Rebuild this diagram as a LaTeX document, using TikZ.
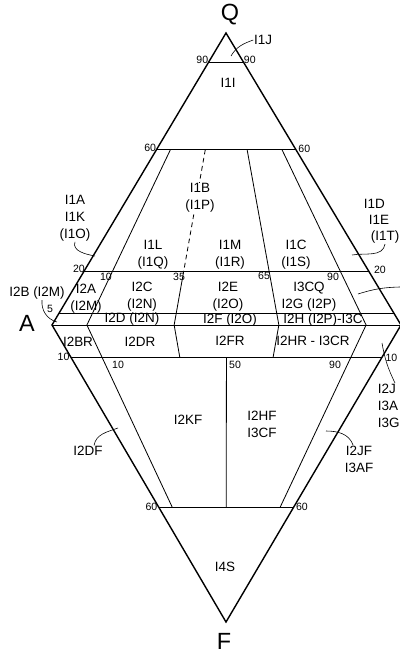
\documentclass[tikz,border=0pt]{standalone}
\usepackage{fontspec}
\setmainfont{Liberation Sans}
\usetikzlibrary{calc}
\tikzset{
    rim/.style={line width=1.2pt, line join=miter},
    div/.style={line width=0.7pt},
    lvl/.style={line width=0.6pt},
    lead/.style={line width=0.5pt},
    field/.style={font=\fontsize{11.5}{14.5}\selectfont, inner sep=0.5pt, align=center},
    tick/.style={font=\fontsize{9}{10}\selectfont, inner sep=1pt},
    corner/.style={font=\fontsize{20}{22}\selectfont, inner sep=0}
}

\begin{document}
\begin{tikzpicture}[x=0.03cm, y=-0.03cm]
    \clip (0,0) rectangle (400,653);
    % corners of the double triangle
    \coordinate (Q) at (226,33);
    \coordinate (A) at (52,325);
    \coordinate (P) at (401,325);
    \coordinate (F) at (226,622);

    % horizontal levels
    \coordinate (q90l) at ($(A)!0.9!(Q)$);   \coordinate (q90r) at ($(P)!0.9!(Q)$);
    \coordinate (q60l) at ($(A)!0.6!(Q)$);   \coordinate (q60r) at ($(P)!0.6!(Q)$);
    \coordinate (q20l) at ($(A)!0.185!(Q)$); \coordinate (q20r) at ($(P)!0.185!(Q)$);
    \coordinate (q5l) at ($(A)!0.04!(Q)$);   \coordinate (q5r) at ($(P)!0.04!(Q)$);
    \coordinate (f10l) at ($(A)!0.108!(F)$); \coordinate (f10r) at ($(P)!0.108!(F)$);
    \coordinate (f60l) at ($(A)!0.613!(F)$); \coordinate (f60r) at ($(P)!0.613!(F)$);

    % ratio lines, upper part
    \coordinate (u10a) at ($(q60l)!0.10!(q60r)$); \coordinate (u10b) at ($(A)!0.10!(P)$);
    \coordinate (u35a) at ($(q60l)!0.35!(q60r)$); \coordinate (u35m) at ($(q20l)!0.35!(q20r)$);
    \coordinate (u35b) at ($(A)!0.35!(P)$);
    \coordinate (u65a) at ($(q60l)!0.65!(q60r)$); \coordinate (u65b) at ($(A)!0.65!(P)$);
    \coordinate (u90a) at ($(q60l)!0.90!(q60r)$); \coordinate (u90b) at ($(A)!0.90!(P)$);
    % ratio lines, lower part
    \coordinate (d10b) at ($(f60l)!0.10!(f60r)$);
    \coordinate (d35b) at ($(f10l)!0.35!(f10r)$);
    \coordinate (d50a) at ($(f10l)!0.50!(f10r)$); \coordinate (d50b) at ($(f60l)!0.50!(f60r)$);
    \coordinate (d65b) at ($(f10l)!0.65!(f10r)$);
    \coordinate (d90b) at ($(f60l)!0.90!(f60r)$);

    \draw[lvl] (q90l) -- (q90r);
    \draw[lvl] (q60l) -- (q60r);
    \draw[lvl] (q20l) -- (q20r);
    \draw[lvl] (q5l) -- (q5r);
    \draw[lvl] (A) -- (P);
    \draw[lvl] (f10l) -- (f10r);
    \draw[lvl] (f60l) -- (f60r);

    \draw[div] (u10a) -- (u10b) -- (d10b);
    \draw[div, dash pattern=on 4pt off 3pt] (u35a) -- (u35m);
    \draw[div] (u35m) -- (u35b) -- (d35b);
    \draw[div] (u65a) -- (u65b) -- (d65b);
    \draw[div] (u90a) -- (u90b) -- (d90b);
    \draw[div] (d50a) -- (d50b);

    \draw[rim] (Q) -- (A) -- (F) -- (P) -- cycle;

    % corner letters
    \node[corner] (lq) at (230,15) {Q};
    \node[corner] (la) at (27,323) {A};
    \node[corner] (lf) at (224,641) {F};

    % level numbers
    \node[tick, anchor=east] (t90l) at ($(q90l)+(1,-2)$) {90};
    \node[tick, anchor=west] (t90r) at ($(q90r)+(-1,-2)$) {90};
    \node[tick, anchor=east] (t60l) at ($(q60l)+(1,-2)$) {60};
    \node[tick, anchor=west] (t60r) at ($(q60r)+(1,-1)$) {60};
    \node[tick, anchor=south east] (t20l) at ($(q20l)+(2,3)$) {20};
    \node[tick, anchor=south west] (t20r) at ($(q20r)+(4,4)$) {20};
    \node[tick] (t5) at (50,309) {5};
    \node[tick] (t10u) at (106,277) {10};
    \node[tick] (t35) at (179,277) {35};
    \node[tick] (t65) at (264,276) {65};
    \node[tick] (t90u) at (333,277) {90};
    \node[tick, anchor=east] (t10l) at ($(f10l)+(0,0)$) {10};
    \node[tick] (t10d) at (118,365) {10};
    \node[tick] (t50) at (235,365) {50};
    \node[tick] (t90d) at (335,365) {90};
    \node[tick, anchor=west] (t10r) at ($(f10r)+(2,1)$) {10};
    \node[tick, anchor=east] (t60dl) at ($(f60l)+(0,0)$) {60};
    \node[tick, anchor=west] (t60dr) at ($(f60r)+(1,0)$) {60};

    % field names
    \node[field] (i1i) at (228,83) {I1I};
    \node[field] (i1j) at (263,40) {I1J};
    \node[field, fill=white] (i1b) at (200,198) {I1B\\(I1P)};
    \node[field] (i1a) at (75,218) {I1A\\I1K\\(I1O)};
    \node[field, anchor=west] (i1d) at (363,204) {I1D};
    \node[field, anchor=west] (i1e) at (368,220) {I1E};
    \node[field, anchor=west] (i1t) at (370,237) {(I1T)};
    \node[field] (i1l) at (153,255) {I1L\\(I1Q)};
    \node[field] (i1m) at (230,255) {I1M\\(I1R)};
    \node[field] (i1c) at (296,255) {I1C\\(I1S)};
    \node[field] (i2a) at (86,299) {I2A\\(I2M)};
    \node[field] (i2b) at (37,293) {I2B (I2M)};
    \node[field] (i2c) at (142,297) {I2C\\(I2N)};
    \node[field] (i2e) at (228,297) {I2E\\(I2O)};
    \node[field] (i3cq) at (309,297) {I3CQ\\I2G (I2P)};
    \node[field] (i2d) at (132,319) {I2D (I2N)};
    \node[field] (i2f) at (230,320) {I2F (I2O)};
    \node[field] (i2h) at (323,320) {I2H (I2P)-I3C};
    \node[field] (i2br) at (78,342) {I2BR};
    \node[field] (i2dr) at (140,342) {I2DR};
    \node[field] (i2fr) at (230,341) {I2FR};
    \node[field] (i2hr) at (313,341) {I2HR - I3CR};
    \node[field] (i2kf) at (188,420) {I2KF};
    \node[field] (i2df) at (88,451) {I2DF};
    \node[field] (i2hf) at (262,424) {I2HF\\I3CF};
    \node[field] (i2jf) at (359,459) {I2JF\\I3AF};
    \node[field, anchor=north west, align=left] (i2j) at (377,383) {I2J\\I3A\\I3G};
    \node[field] (i4s) at (225,567) {I4S};

    % leader ends
    \coordinate (l1j) at (231,56);
    \coordinate (l1a) at (95,256);
    \coordinate (l1t) at (352,255);
    \coordinate (l2b) at (57,322);
    \coordinate (l2df) at (118,428);
    \coordinate (l2jf) at (326,431);
    \coordinate (l2j) at (382,343);
    \coordinate (lra) at (358,294);
    \coordinate (lrb) at (400,287);

    \draw[lead] (i1j.west) to[out=200, in=60] (l1j);
    \draw[lead] (i1a.south) to[out=-110, in=170] (l1a);
    \draw[lead] (i1t.south) to[out=-100, in=10] (l1t);
    \draw[lead] ($(i2b.south)+(5,0)$) to[out=-95, in=165] (l2b);
    \draw[lead] ($(i2df.north)+(6,0)$) to[out=80, in=200] (l2df);
    \draw[lead] ($(i2jf.north)+(-6,0)$) to[out=110, in=0] (l2jf);
    \draw[lead] ($(i2j.north west)+(18,0)$) to[bend left=8] (l2j);
    \draw[lead] (lra) to[bend left=8] (lrb);
\end{tikzpicture}
\end{document}
